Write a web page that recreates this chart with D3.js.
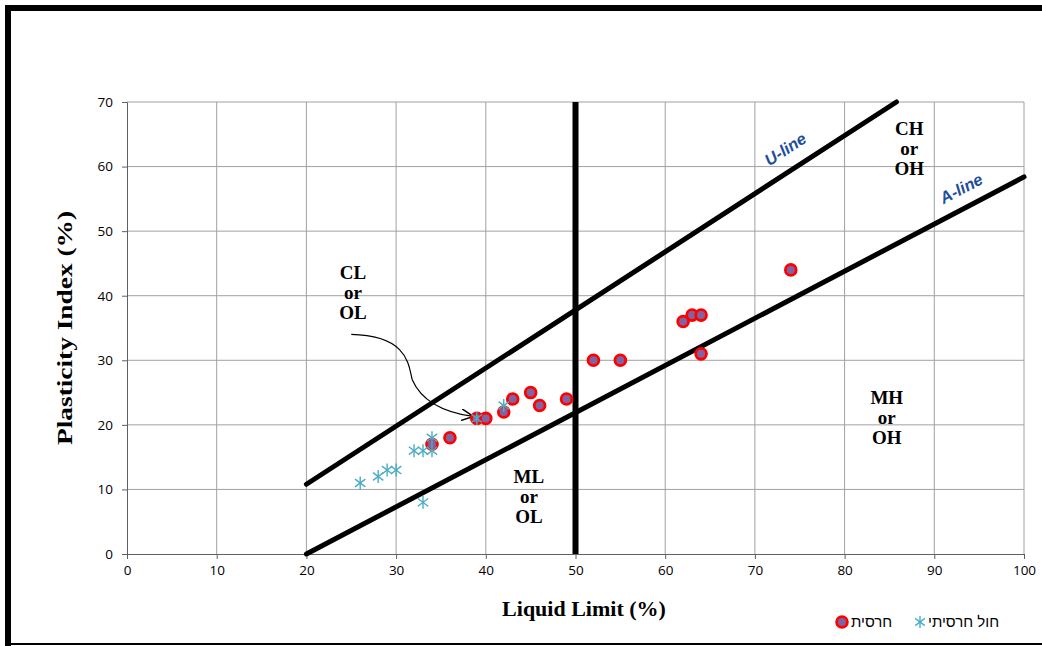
<!DOCTYPE html>
<html>
<head>
<meta charset="utf-8">
<script src="https://cdn.jsdelivr.net/npm/d3@7"></script>
<style>
 body { margin:0; background:#fff; }
 svg { display:block; }
</style>
</head>
<body>
<svg id="chart" width="1042" height="646"></svg>
<script>
// clay (red ring, purple fill)
var clayLL = [34, 36, 39, 40, 42, 43, 45, 46, 49, 52, 55, 62, 63, 64, 64, 74];
var clayPI = [17, 18, 21, 21, 22, 24, 25, 23, 24, 30, 30, 36, 37, 37, 31, 44];
// clayey sand (asterisk)
var sandLL = [26, 28, 29, 30, 32, 33, 34, 34, 33, 39, 42];
var sandPI = [11, 12, 13, 13, 16, 16, 16, 18, 8, 21, 23];
var xTicks = [0, 10, 20, 30, 40, 50, 60, 70, 80, 90, 100];
var yTicks = [0, 10, 20, 30, 40, 50, 60, 70];
// chart lines in data units
var uLine = [[20, 10.8], [85.78, 70]];
var aLine = [[20, 0], [100, 58.4]];
var llLine = [[50, 0], [50, 70]];
var zoneLabels = [
 {t: ["CL", "or", "OL"], x: 25.2, y: 40.4},
 {t: ["CH", "or", "OH"], x: 87.2, y: 62.7},
 {t: ["MH", "or", "OH"], x: 84.7, y: 21.1},
 {t: ["ML", "or", "OL"], x: 44.8, y: 8.8}
];
var lineLabels = [
 {t: "U-line", x: 73.4, y: 62.7, line: uLine},
 {t: "A-line", x: 93.0, y: 56.6, line: aLine}
];
var arrowPts = [[25.0, 34.0], [31.6, 33.8], [31.4, 28.8], [31.8, 27.0], [32.8, 23.8], [35.0, 22.0], [38.6, 21.3]];
var legendNames = ["חרסית", "חול חרסיתי"];

var svg = d3.select("#chart");
var x = d3.scaleLinear().domain([0, 100]).range([127, 1024]);
var y = d3.scaleLinear().domain([0, 70]).range([554, 102]);

// frame
svg.append("line").attr("x1", 8).attr("x2", 1042).attr("y1", 8).attr("y2", 8).attr("stroke", "#000").attr("stroke-width", 6);
svg.append("line").attr("x1", 8).attr("x2", 8).attr("y1", 5).attr("y2", 646).attr("stroke", "#000").attr("stroke-width", 6);
svg.append("line").attr("x1", 5).attr("x2", 1042).attr("y1", 644).attr("y2", 644).attr("stroke", "#000").attr("stroke-width", 2);

// grid
var g = svg.append("g");
g.selectAll(".vg").data(xTicks.slice(1)).enter().append("line")
 .attr("x1", function(d){ return x(d); }).attr("x2", function(d){ return x(d); })
 .attr("y1", y(0)).attr("y2", y(70)).attr("stroke", "#a0a0a0").attr("stroke-width", 1);
g.selectAll(".hg").data(yTicks.slice(1)).enter().append("line")
 .attr("x1", x(0)).attr("x2", x(100))
 .attr("y1", function(d){ return y(d); }).attr("y2", function(d){ return y(d); })
 .attr("stroke", "#a0a0a0").attr("stroke-width", 1);

// axes
var xa = svg.append("g").attr("transform", "translate(0," + y(0) + ")")
 .call(d3.axisBottom(x).tickValues(xTicks).tickSize(5).tickPadding(6));
var ya = svg.append("g").attr("transform", "translate(" + x(0) + ",0)")
 .call(d3.axisLeft(y).tickValues(yTicks).tickSize(5).tickPadding(9));
[xa, ya].forEach(function(a){
 a.select(".domain").attr("stroke", "#606060");
 a.selectAll(".tick line").attr("stroke", "#606060");
 a.selectAll("text").attr("fill", "#000").style("font-family", "'Open Sans', sans-serif").style("font-size", "13.5px");
});

// classification lines
var lg = d3.line().x(function(d){ return x(d[0]); }).y(function(d){ return y(d[1]); });
[uLine, aLine].forEach(function(l){
 svg.append("path").attr("d", lg(l)).attr("stroke", "#000").attr("stroke-width", 5).attr("stroke-linecap", "round").attr("fill", "none");
});
svg.append("path").attr("d", lg(llLine)).attr("stroke", "#000").attr("stroke-width", 6).attr("fill", "none");

// arrow annotation
svg.append("defs").append("marker").attr("id", "arr").attr("viewBox", "0 0 10 10")
 .attr("refX", 10).attr("refY", 5).attr("markerWidth", 12).attr("markerHeight", 12)
 .attr("markerUnits", "userSpaceOnUse").attr("orient", "auto")
 .append("path").attr("d", "M0,0 L10,5 L0,10").attr("fill", "none").attr("stroke", "#000").attr("stroke-width", 1.2);
var ap = arrowPts.map(function(p){ return [x(p[0]), y(p[1])]; });
svg.append("path")
 .attr("d", "M" + ap[0] + " C" + ap[1] + " " + ap[2] + " " + ap[3] + " C" + ap[4] + " " + ap[5] + " " + ap[6])
 .attr("fill", "none").attr("stroke", "#000").attr("stroke-width", 1.2).attr("marker-end", "url(#arr)");

// zone labels
zoneLabels.forEach(function(z){
 var t = svg.append("text").attr("text-anchor", "middle")
  .style("font-family", "'Liberation Serif', 'Times New Roman', serif").style("font-weight", "bold").style("font-size", "19px");
 z.t.forEach(function(s, i){
  t.append("tspan").attr("x", x(z.x)).attr("y", y(z.y) + (i - 1) * 20 + 6).text(s);
 });
});

// U-line / A-line labels
lineLabels.forEach(function(l){
 var ang = Math.atan2(y(l.line[1][1]) - y(l.line[0][1]), x(l.line[1][0]) - x(l.line[0][0])) * 180 / Math.PI;
 svg.append("text").attr("transform", "translate(" + x(l.x) + "," + y(l.y) + ") rotate(" + ang + ")")
  .attr("text-anchor", "middle").attr("dy", "0.35em")
  .style("font-family", "'Liberation Sans', Arial, sans-serif").style("font-weight", "bold").style("font-style", "italic")
  .style("font-size", "16.5px").attr("fill", "#1F4E9E").text(l.t);
});

// markers
function star(sel, cx, cy, r){
 var gg = sel.append("g").attr("transform", "translate(" + cx + "," + cy + ")")
  .attr("stroke", "#4BACC6").attr("stroke-width", 1.4);
 gg.append("line").attr("x1", 0).attr("x2", 0).attr("y1", -r).attr("y2", r);
 gg.append("line").attr("x1", -r * 0.8).attr("x2", r * 0.8).attr("y1", -r * 0.6).attr("y2", r * 0.6);
 gg.append("line").attr("x1", -r * 0.8).attr("x2", r * 0.8).attr("y1", r * 0.6).attr("y2", -r * 0.6);
}
function dot(sel, cx, cy){
 sel.append("circle").attr("cx", cx).attr("cy", cy).attr("r", 5.4)
  .attr("fill", "#8064A2").attr("stroke", "#FF0000").attr("stroke-width", 2.8);
}
var pg = svg.append("g");
clayLL.forEach(function(v, i){ dot(pg, x(v), y(clayPI[i])); });
sandLL.forEach(function(v, i){ star(pg, x(v), y(sandPI[i]), 6.5); });

// axis titles
svg.append("text").attr("x", 584).attr("y", 616).attr("text-anchor", "middle")
 .style("font-family", "'Liberation Serif', 'Times New Roman', serif").style("font-weight", "bold").style("font-size", "22px")
 .text("Liquid Limit (%)");
svg.append("text").attr("transform", "translate(72,328) rotate(-90)").attr("text-anchor", "middle")
 .attr("textLength", 234).attr("lengthAdjust", "spacingAndGlyphs")
 .style("font-family", "'Liberation Serif', 'Times New Roman', serif").style("font-weight", "bold").style("font-size", "22px")
 .text("Plasticity Index (%)");

// legend
var leg = svg.append("g");
dot(leg, 842, 622);
leg.append("text").attr("x", 851).attr("y", 627).text(legendNames[0])
 .style("font-family", "'Liberation Sans', 'DejaVu Sans', sans-serif").style("font-size", "15px");
star(leg, 920, 622, 6);
leg.append("text").attr("x", 928).attr("y", 627).text(legendNames[1])
 .style("font-family", "'Liberation Sans', 'DejaVu Sans', sans-serif").style("font-size", "15px");
</script>
</body>
</html>
